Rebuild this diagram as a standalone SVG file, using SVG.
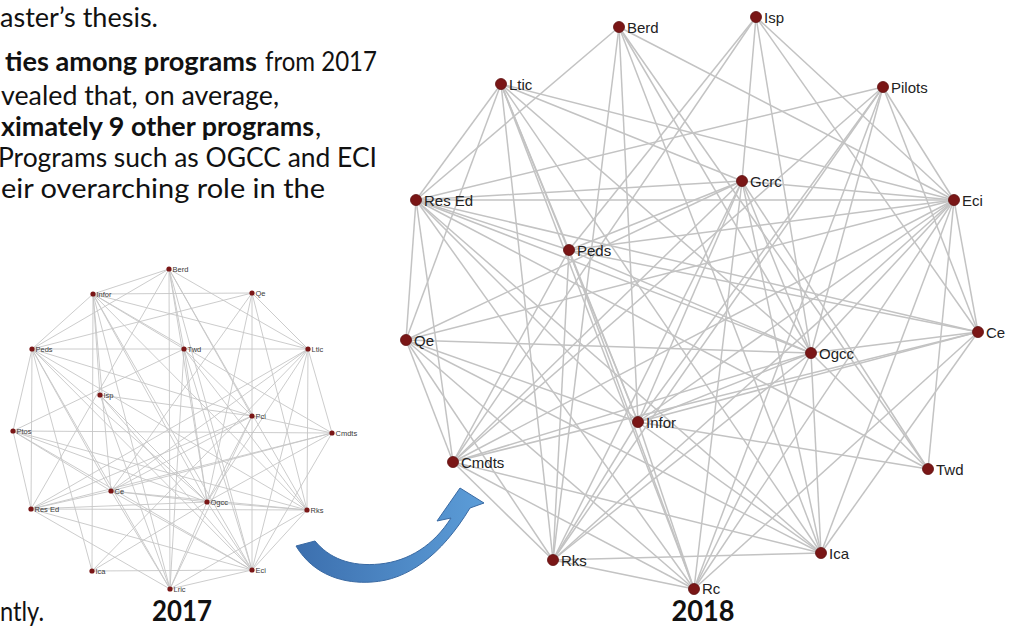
<svg xmlns="http://www.w3.org/2000/svg" width="1015" height="629" viewBox="0 0 1015 629">
<style>
.para{font-family:Lato,"Open Sans",sans-serif;font-size:27px;fill:#111}
.b{font-weight:bold}
.yr{font-family:Lato,"Open Sans",sans-serif;font-size:29px;font-weight:bold;fill:#111;text-anchor:middle}
.e18 path{stroke:#c3c3c3;stroke-width:1.5;fill:none}
.e17 path{stroke:#c6c6c6;stroke-width:0.9;fill:none}
.n18 circle{fill:#7a1616;stroke:#5e0f0f;stroke-width:0.8}
.n18 text{font-family:"Liberation Sans",Arial,sans-serif;font-size:15px;fill:#222}
.n17 circle{fill:#7a1616}
.n17 text{font-family:"Liberation Sans",Arial,sans-serif;font-size:7.5px;fill:#3a3a3a}
</style>
<defs>
<linearGradient id="ag" x1="0" y1="0" x2="1" y2="0">
<stop offset="0" stop-color="#3c6fae"/>
<stop offset="1" stop-color="#5c9dd8"/>
</linearGradient>
</defs>
<rect width="1015" height="629" fill="#ffffff"/>

<g id="text">
<text class="para" x="0" y="27" textLength="158" lengthAdjust="spacingAndGlyphs">aster’s thesis.</text>
<text class="para b" x="5" y="71" textLength="252" lengthAdjust="spacingAndGlyphs">ties among programs</text>
<text class="para" x="265" y="71" textLength="112" lengthAdjust="spacingAndGlyphs">from 2017</text>
<text class="para" x="1" y="105" textLength="278" lengthAdjust="spacingAndGlyphs">vealed that, on average,</text>
<text class="para b" x="1" y="136" textLength="313" lengthAdjust="spacingAndGlyphs">ximately 9 other programs</text>
<text class="para" x="315" y="136">,</text>
<text class="para" x="-2" y="167" textLength="379" lengthAdjust="spacingAndGlyphs">Programs such as OGCC and ECI</text>
<text class="para" x="1" y="198" textLength="324" lengthAdjust="spacingAndGlyphs">eir overarching role in the</text>
<text class="para" x="0" y="621" textLength="44" lengthAdjust="spacingAndGlyphs">ntly.</text>
<text class="yr" x="182" y="621" textLength="60" lengthAdjust="spacingAndGlyphs">2017</text>
<text class="yr" x="703" y="621" textLength="63" lengthAdjust="spacingAndGlyphs">2018</text>
</g>

<g id="connectors-2017" class="e17">
<path d="M169 269L93 294"/><path d="M169 269L32 349"/><path d="M169 269L308 349"/><path d="M169 269L252 416"/><path d="M169 269L207 502"/><path d="M169 269L252 570"/><path d="M169 269L170 589"/><path d="M169 269L31 509"/><path d="M169 269L307 510"/><path d="M169 269L184 349"/>
<path d="M93 294L32 349"/><path d="M93 294L252 293"/><path d="M93 294L184 349"/><path d="M93 294L308 349"/><path d="M93 294L100 395"/><path d="M93 294L111 491"/><path d="M93 294L207 502"/><path d="M93 294L252 570"/><path d="M93 294L170 589"/><path d="M93 294L92 571"/><path d="M93 294L307 510"/><path d="M93 294L332 433"/>
<path d="M252 293L32 349"/><path d="M252 293L308 349"/><path d="M252 293L252 570"/><path d="M252 293L307 510"/><path d="M252 293L207 502"/><path d="M252 293L111 491"/>
<path d="M32 349L308 349"/><path d="M32 349L31 509"/><path d="M32 349L252 416"/><path d="M32 349L207 502"/><path d="M32 349L252 570"/><path d="M32 349L111 491"/><path d="M32 349L307 510"/><path d="M32 349L92 571"/><path d="M32 349L13 431"/><path d="M32 349L170 589"/>
<path d="M184 349L207 502"/><path d="M184 349L252 570"/><path d="M184 349L307 510"/><path d="M184 349L252 416"/><path d="M184 349L170 589"/><path d="M184 349L13 431"/>
<path d="M308 349L332 433"/><path d="M308 349L307 510"/><path d="M308 349L111 491"/><path d="M308 349L31 509"/><path d="M308 349L92 571"/><path d="M308 349L252 570"/><path d="M308 349L207 502"/>
<path d="M100 395L252 416"/><path d="M100 395L207 502"/><path d="M100 395L252 570"/><path d="M100 395L170 589"/>
<path d="M252 416L332 433"/><path d="M252 416L207 502"/><path d="M252 416L31 509"/><path d="M252 416L111 491"/><path d="M252 416L170 589"/>
<path d="M13 431L332 433"/><path d="M13 431L111 491"/><path d="M13 431L207 502"/><path d="M13 431L31 509"/><path d="M13 431L252 570"/><path d="M13 431L307 510"/>
<path d="M332 433L207 502"/><path d="M332 433L31 509"/><path d="M332 433L111 491"/><path d="M332 433L252 570"/>
<path d="M111 491L207 502"/><path d="M111 491L252 570"/><path d="M111 491L170 589"/><path d="M111 491L307 510"/><path d="M111 491L31 509"/>
<path d="M31 509L207 502"/><path d="M31 509L307 510"/><path d="M31 509L252 570"/><path d="M31 509L170 589"/>
<path d="M207 502L307 510"/><path d="M207 502L252 570"/><path d="M207 502L170 589"/><path d="M207 502L92 571"/>
<path d="M307 510L252 570"/><path d="M307 510L170 589"/>
<path d="M252 570L170 589"/><path d="M252 570L92 571"/>
</g>

<g id="nodes-2017" class="n17">
<g id="n17-berd"><circle cx="169" cy="269" r="2.6"/><text x="172.5" y="271.7">Berd</text></g>
<g id="n17-infor"><circle cx="93" cy="294" r="2.6"/><text x="96.5" y="296.7">Infor</text></g>
<g id="n17-qe"><circle cx="252" cy="293" r="2.6"/><text x="255.5" y="295.7">Qe</text></g>
<g id="n17-peds"><circle cx="32" cy="349" r="2.6"/><text x="35.5" y="351.7">Peds</text></g>
<g id="n17-twd"><circle cx="184" cy="349" r="2.6"/><text x="187.5" y="351.7">Twd</text></g>
<g id="n17-ltic"><circle cx="308" cy="349" r="2.6"/><text x="311.5" y="351.7">Ltic</text></g>
<g id="n17-isp"><circle cx="100" cy="395" r="2.6"/><text x="103.5" y="397.7">Isp</text></g>
<g id="n17-pci"><circle cx="252" cy="416" r="2.6"/><text x="255.5" y="418.7">Pci</text></g>
<g id="n17-ptos"><circle cx="13" cy="431" r="2.6"/><text x="16.5" y="433.7">Ptos</text></g>
<g id="n17-cmdts"><circle cx="332" cy="433" r="2.6"/><text x="335.5" y="435.7">Cmdts</text></g>
<g id="n17-ce"><circle cx="111" cy="491" r="2.6"/><text x="114.5" y="493.7">Ce</text></g>
<g id="n17-resed"><circle cx="31" cy="509" r="2.6"/><text x="34.5" y="511.7">Res Ed</text></g>
<g id="n17-ogcc"><circle cx="207" cy="502" r="2.6"/><text x="210.5" y="504.7">Ogcc</text></g>
<g id="n17-rks"><circle cx="307" cy="510" r="2.6"/><text x="310.5" y="512.7">Rks</text></g>
<g id="n17-ica"><circle cx="92" cy="571" r="2.6"/><text x="95.5" y="573.7">Ica</text></g>
<g id="n17-eci"><circle cx="252" cy="570" r="2.6"/><text x="255.5" y="572.7">Eci</text></g>
<g id="n17-lric"><circle cx="170" cy="589" r="2.6"/><text x="173.5" y="591.7">Lric</text></g>
</g>

<g id="connectors-2018" class="e18">
<path d="M619 27L416 200"/><path d="M619 27L553 560"/><path d="M619 27L638 422"/><path d="M619 27L811 353"/><path d="M619 27L821 553"/><path d="M619 27L954 200"/><path d="M619 27L928 469"/>
<path d="M756 17L742 181"/><path d="M756 17L453 462"/><path d="M756 17L811 353"/><path d="M756 17L954 200"/><path d="M756 17L978 332"/><path d="M756 17L569 250"/>
<path d="M501 84L416 200"/><path d="M501 84L406 340"/><path d="M501 84L553 560"/><path d="M501 84L638 422"/><path d="M501 84L694 589"/><path d="M501 84L821 553"/><path d="M501 84L811 353"/><path d="M501 84L954 200"/><path d="M501 84L742 181"/><path d="M501 84L569 250"/>
<path d="M883 87L416 200"/><path d="M883 87L954 200"/><path d="M883 87L978 332"/><path d="M883 87L694 589"/><path d="M883 87L638 422"/><path d="M883 87L453 462"/><path d="M883 87L811 353"/><path d="M883 87L553 560"/>
<path d="M742 181L416 200"/><path d="M742 181L569 250"/><path d="M742 181L954 200"/><path d="M742 181L453 462"/><path d="M742 181L553 560"/><path d="M742 181L694 589"/><path d="M742 181L638 422"/><path d="M742 181L821 553"/><path d="M742 181L811 353"/><path d="M742 181L406 340"/><path d="M742 181L928 469"/>
<path d="M416 200L569 250"/><path d="M416 200L406 340"/><path d="M416 200L453 462"/><path d="M416 200L638 422"/><path d="M416 200L811 353"/><path d="M416 200L694 589"/><path d="M416 200L821 553"/><path d="M416 200L928 469"/><path d="M416 200L954 200"/><path d="M416 200L978 332"/>
<path d="M954 200L569 250"/><path d="M954 200L406 340"/><path d="M954 200L978 332"/><path d="M954 200L811 353"/><path d="M954 200L638 422"/><path d="M954 200L453 462"/><path d="M954 200L553 560"/><path d="M954 200L694 589"/><path d="M954 200L821 553"/><path d="M954 200L928 469"/>
<path d="M569 250L811 353"/><path d="M569 250L978 332"/><path d="M569 250L638 422"/><path d="M569 250L694 589"/><path d="M569 250L553 560"/><path d="M569 250L453 462"/>
<path d="M406 340L811 353"/><path d="M406 340L638 422"/><path d="M406 340L553 560"/><path d="M406 340L694 589"/><path d="M406 340L821 553"/><path d="M406 340L453 462"/>
<path d="M978 332L811 353"/><path d="M978 332L638 422"/><path d="M978 332L821 553"/><path d="M978 332L694 589"/><path d="M978 332L453 462"/>
<path d="M811 353L453 462"/><path d="M811 353L553 560"/><path d="M811 353L694 589"/><path d="M811 353L821 553"/><path d="M811 353L638 422"/><path d="M811 353L928 469"/>
<path d="M638 422L553 560"/><path d="M638 422L694 589"/><path d="M638 422L928 469"/><path d="M638 422L821 553"/>
<path d="M453 462L553 560"/><path d="M453 462L694 589"/><path d="M453 462L821 553"/>
<path d="M553 560L694 589"/><path d="M553 560L821 553"/>
</g>

<g id="nodes-2018" class="n18">
<g id="n18-berd"><circle cx="619" cy="27" r="5.5"/><text x="627" y="32.5">Berd</text></g>
<g id="n18-isp"><circle cx="756" cy="17" r="5.5"/><text x="764" y="22.5">Isp</text></g>
<g id="n18-ltic"><circle cx="501" cy="84" r="5.5"/><text x="509" y="89.5">Ltic</text></g>
<g id="n18-pilots"><circle cx="883" cy="87" r="5.5"/><text x="891" y="92.5">Pilots</text></g>
<g id="n18-gcrc"><circle cx="742" cy="181" r="5.5"/><text x="750" y="186.5">Gcrc</text></g>
<g id="n18-resed"><circle cx="416" cy="200" r="5.5"/><text x="424" y="205.5">Res Ed</text></g>
<g id="n18-eci"><circle cx="954" cy="200" r="5.5"/><text x="962" y="205.5">Eci</text></g>
<g id="n18-peds"><circle cx="569" cy="250" r="5.5"/><text x="577" y="255.5">Peds</text></g>
<g id="n18-qe"><circle cx="406" cy="340" r="5.5"/><text x="414" y="345.5">Qe</text></g>
<g id="n18-ce"><circle cx="978" cy="332" r="5.5"/><text x="986" y="337.5">Ce</text></g>
<g id="n18-ogcc"><circle cx="811" cy="353" r="5.5"/><text x="819" y="358.5">Ogcc</text></g>
<g id="n18-infor"><circle cx="638" cy="422" r="5.5"/><text x="646" y="427.5">Infor</text></g>
<g id="n18-cmdts"><circle cx="453" cy="462" r="5.5"/><text x="461" y="467.5">Cmdts</text></g>
<g id="n18-twd"><circle cx="928" cy="469" r="5.5"/><text x="936" y="474.5">Twd</text></g>
<g id="n18-ica"><circle cx="821" cy="553" r="5.5"/><text x="829" y="558.5">Ica</text></g>
<g id="n18-rks"><circle cx="553" cy="560" r="5.5"/><text x="561" y="565.5">Rks</text></g>
<g id="n18-rc"><circle cx="694" cy="589" r="5.5"/><text x="702" y="594">Rc</text></g>
</g>

<g id="arrow">
<path d="M296 546C314 576 345 584 372 582C407 580 441 556 470 508L484 503L460 488L437 521L451 518C434 545 409 561 380 564C350 567 329 558 315 541Z" fill="url(#ag)" stroke="#3a6aa3" stroke-width="1"/>
</g>
</svg>
